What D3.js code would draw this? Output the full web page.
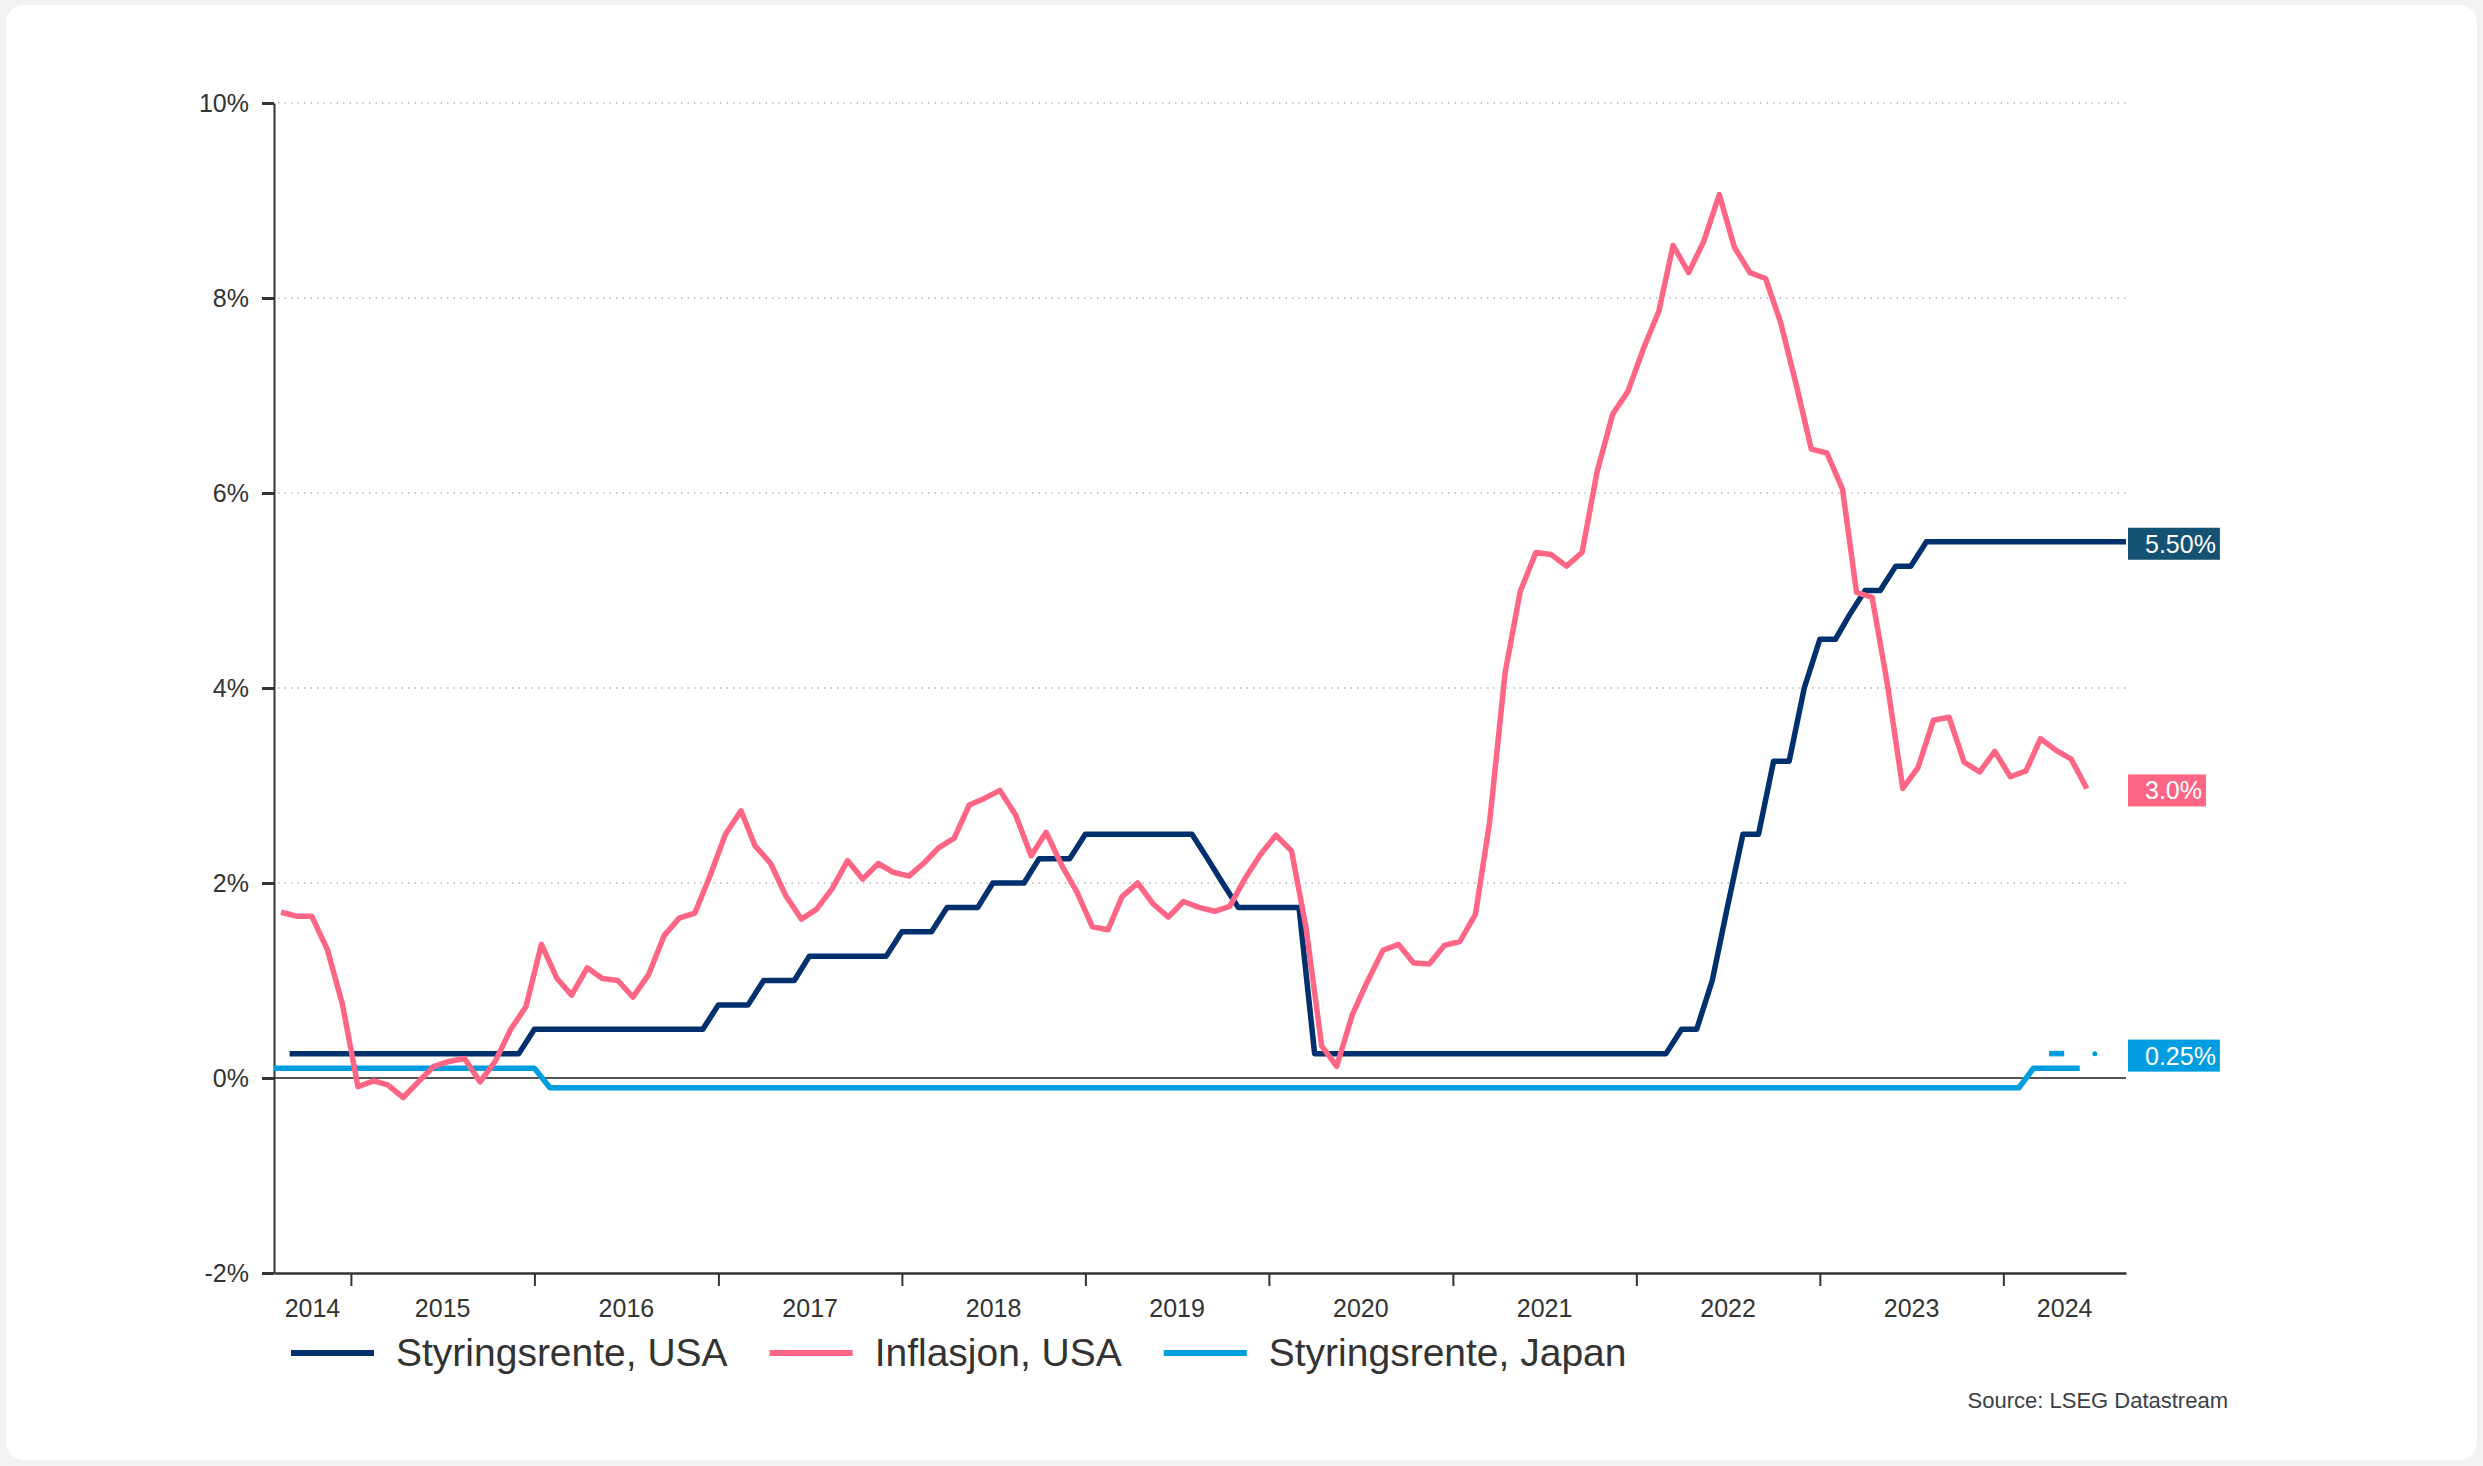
<!DOCTYPE html>
<html>
<head>
<meta charset="utf-8">
<script src="https://cdn.jsdelivr.net/npm/d3@7"></script>
<style>
  body { margin: 0; background: #f3f1f1; }
  text { font-family: "Liberation Sans", Arial, sans-serif; }
</style>
</head>
<body>
<div id="chart"></div>
<script>
// ---- data ----
var yearLabels = ["2014", "2015", "2016", "2017", "2018", "2019", "2020", "2021", "2022", "2023", "2024"];
var yTicks = [-2, 0, 2, 4, 6, 8, 10];
var seriesNames = ["Styringsrente, USA", "Inflasjon, USA", "Styringsrente, Japan"];
var lastLabels = ["5.50%", "3.0%", "0.25%"];
var lastValues = [5.5, 2.97, 0.25];

// US CPI y/y, monthly from Aug 2014
var inflasjonStart = "2014-08";
var inflasjonUSA = [
    1.70, 1.66, 1.66, 1.32, 0.76,
    -0.09, -0.03, -0.07, -0.20, -0.04, 0.12, 0.17, 0.20, -0.04, 0.17, 0.50, 0.73,
    1.37, 1.02, 0.85, 1.13, 1.02, 1.00, 0.83, 1.06, 1.46, 1.64, 1.69, 2.07,
    2.50, 2.74, 2.38, 2.20, 1.87, 1.63, 1.73, 1.94, 2.23, 2.04, 2.20, 2.11,
    2.07, 2.21, 2.36, 2.46, 2.80, 2.87, 2.95, 2.70, 2.28, 2.52, 2.18, 1.91,
    1.55, 1.52, 1.86, 2.00, 1.79, 1.65, 1.81, 1.75, 1.71, 1.76, 2.05, 2.29,
    2.49, 2.33, 1.54, 0.33, 0.12, 0.65, 0.99, 1.31, 1.37, 1.18, 1.17, 1.36,
    1.40, 1.68, 2.62, 4.16, 4.99, 5.39, 5.37, 5.25, 5.39, 6.22, 6.81, 7.04,
    7.48, 7.87, 8.54, 8.26, 8.58, 9.06, 8.52, 8.26, 8.20, 7.75, 7.11, 6.45,
    6.41, 6.04, 4.98, 4.93, 4.05, 2.97, 3.18, 3.67, 3.70, 3.24, 3.14, 3.35,
    3.09, 3.15, 3.48, 3.36, 3.27, 2.97
];

// Fed funds (upper bound), first of month from Sep 2014
var renteUSAStart = "2014-09";
var renteUSA = [
    0.25, 0.25, 0.25, 0.25,
    0.25, 0.25, 0.25, 0.25, 0.25, 0.25, 0.25, 0.25, 0.25, 0.25, 0.25, 0.25,
    0.50, 0.50, 0.50, 0.50, 0.50, 0.50, 0.50, 0.50, 0.50, 0.50, 0.50, 0.50,
    0.75, 0.75, 0.75, 1.00, 1.00, 1.00, 1.25, 1.25, 1.25, 1.25, 1.25, 1.25,
    1.50, 1.50, 1.50, 1.75, 1.75, 1.75, 2.00, 2.00, 2.00, 2.25, 2.25, 2.25,
    2.50, 2.50, 2.50, 2.50, 2.50, 2.50, 2.50, 2.50, 2.25, 2.00, 1.75, 1.75,
    1.75, 1.75, 1.75, 0.25, 0.25, 0.25, 0.25, 0.25, 0.25, 0.25, 0.25, 0.25,
    0.25, 0.25, 0.25, 0.25, 0.25, 0.25, 0.25, 0.25, 0.25, 0.25, 0.25, 0.25,
    0.25, 0.25, 0.25, 0.50, 0.50, 1.00, 1.75, 2.50, 2.50, 3.25, 3.25, 4.00,
    4.50, 4.50, 4.75, 5.00, 5.00, 5.25, 5.25, 5.50, 5.50, 5.50, 5.50, 5.50,
    5.50, 5.50, 5.50, 5.50, 5.50, 5.50, 5.50, 5.50, 5.50
];

// BoJ policy rate, monthly from Aug 2014
var renteJapanStart = "2014-08";
var renteJapan = [
    0.1, 0.1, 0.1, 0.1, 0.1,
    0.1, 0.1, 0.1, 0.1, 0.1, 0.1, 0.1, 0.1, 0.1, 0.1, 0.1, 0.1,
    0.1, -0.1, -0.1, -0.1, -0.1, -0.1, -0.1, -0.1, -0.1, -0.1, -0.1, -0.1,
    -0.1, -0.1, -0.1, -0.1, -0.1, -0.1, -0.1, -0.1, -0.1, -0.1, -0.1, -0.1,
    -0.1, -0.1, -0.1, -0.1, -0.1, -0.1, -0.1, -0.1, -0.1, -0.1, -0.1, -0.1,
    -0.1, -0.1, -0.1, -0.1, -0.1, -0.1, -0.1, -0.1, -0.1, -0.1, -0.1, -0.1,
    -0.1, -0.1, -0.1, -0.1, -0.1, -0.1, -0.1, -0.1, -0.1, -0.1, -0.1, -0.1,
    -0.1, -0.1, -0.1, -0.1, -0.1, -0.1, -0.1, -0.1, -0.1, -0.1, -0.1, -0.1,
    -0.1, -0.1, -0.1, -0.1, -0.1, -0.1, -0.1, -0.1, -0.1, -0.1, -0.1, -0.1,
    -0.1, -0.1, -0.1, -0.1, -0.1, -0.1, -0.1, -0.1, -0.1, -0.1, -0.1, -0.1,
    -0.1, -0.1, 0.1, 0.1, 0.1, 0.1
];
// short tail at the new Japanese rate (Apr-May 2024) and the Jul 2024 point
var renteJapanTailStart = "2024-04";
var renteJapanTail = [0.25, 0.25];
var renteJapanDotMonth = "2024-07";
var renteJapanDot = 0.25;

// ---- styles ----
var colors = { usRate: "#00306e", cpi: "#ff6685", jpRate: "#009ee0" };
var boxColors = ["#145172", "#ff6685", "#009ee0"];
var lineColors = [colors.usRate, colors.cpi, colors.jpRate];

// ---- svg area ----
var svgWidth = 2483;
var svgHeight = 1466;

var svg = d3.select("#chart")
    .append("svg")
    .attr("width", svgWidth)
    .attr("height", svgHeight);

// white card
svg.append("rect")
    .attr("x", 6)
    .attr("y", 5)
    .attr("width", 2471)
    .attr("height", 1455)
    .attr("rx", 18)
    .attr("fill", "white");

var plot = { left: 274, right: 2126, top: 103, bottom: 1273 };

var parseMonth = d3.timeParse("%Y-%m");

function monthDates(start, n, day) {
    var d0 = parseMonth(start);
    return d3.range(n).map(function(i) {
        var d = d3.timeMonth.offset(d0, i);
        d.setDate(day);
        return d;
    });
}

function toPoints(start, values, day) {
    var dates = monthDates(start, values.length, day);
    return values.map(function(v, i) { return { date: dates[i], value: v }; });
}

var cpiData = toPoints(inflasjonStart, inflasjonUSA, 15);
var usData = toPoints(renteUSAStart, renteUSA, 1);
var jpData = toPoints(renteJapanStart, renteJapan, 1);
var jpTail = toPoints(renteJapanTailStart, renteJapanTail, 1);

// scales
var xScale = d3.scaleTime()
    .domain([new Date(2014, 7, 1), new Date(2024, 8, 1)])
    .range([plot.left, plot.right]);

var yScale = d3.scaleLinear()
    .domain([-2, 10])
    .range([plot.bottom, plot.top]);

// gridlines
svg.append("g")
    .selectAll("line")
    .data(yTicks.filter(function(t) { return t > 0; }))
    .enter()
    .append("line")
    .attr("x1", plot.left + 4)
    .attr("x2", plot.right)
    .attr("y1", function(d) { return yScale(d); })
    .attr("y2", function(d) { return yScale(d); })
    .attr("stroke", "#b8b8b8")
    .attr("stroke-width", 1.5)
    .attr("stroke-dasharray", "1.5,5");

// zero line
svg.append("line")
    .attr("x1", plot.left)
    .attr("x2", plot.right)
    .attr("y1", yScale(0))
    .attr("y2", yScale(0))
    .attr("stroke", "#555")
    .attr("stroke-width", 2);

// y axis
var leftAxis = d3.axisLeft(yScale)
    .tickValues(yTicks)
    .tickFormat(function(d) { return d + "%"; })
    .tickSize(12)
    .tickSizeOuter(0)
    .tickPadding(13);

var yAxisG = svg.append("g")
    .attr("transform", "translate(" + plot.left + ",0)")
    .call(leftAxis);
yAxisG.select(".domain").attr("stroke", "#333").attr("stroke-width", 2);
yAxisG.selectAll(".tick line").attr("stroke", "#333").attr("stroke-width", 3);
yAxisG.selectAll(".tick text")
    .attr("fill", "#333")
    .style("font-size", "25px")
    .style("font-family", "'Liberation Sans', Arial, sans-serif");

// x axis: ticks at year boundaries, labels centred in each year
var yearStarts = yearLabels.slice(1).map(function(y) { return new Date(+y, 0, 1); });
var bottomAxis = d3.axisBottom(xScale)
    .tickValues(yearStarts)
    .tickFormat("")
    .tickSize(13)
    .tickSizeOuter(0);

var xAxisG = svg.append("g")
    .attr("transform", "translate(0," + plot.bottom + ")")
    .call(bottomAxis);
xAxisG.select(".domain").attr("stroke", "#333").attr("stroke-width", 2.5);
xAxisG.selectAll(".tick line").attr("stroke", "#333").attr("stroke-width", 2);

var d0 = xScale.domain()[0], d1 = xScale.domain()[1];
svg.append("g")
    .selectAll("text")
    .data(yearLabels)
    .enter()
    .append("text")
    .attr("x", function(y) {
        var a = new Date(+y, 0, 1), b = new Date(+y + 1, 0, 1);
        if (a < d0) a = d0;
        if (b > d1) b = d1;
        return (xScale(a) + xScale(b)) / 2;
    })
    .attr("y", plot.bottom + 44)
    .attr("text-anchor", "middle")
    .attr("fill", "#333")
    .attr("font-size", 25)
    .text(function(d) { return d; });

// lines
var line = d3.line()
    .x(function(d) { return xScale(d.date); })
    .y(function(d) { return yScale(d.value); });

function drawLine(data, color) {
    return svg.append("path")
        .datum(data)
        .attr("d", line)
        .attr("fill", "none")
        .attr("stroke", color)
        .attr("stroke-width", 5.5)
        .attr("stroke-linejoin", "round");
}

drawLine(jpData, colors.jpRate);
drawLine(jpTail, colors.jpRate);
svg.append("circle")
    .attr("cx", xScale(parseMonth(renteJapanDotMonth)))
    .attr("cy", yScale(renteJapanDot))
    .attr("r", 2.5)
    .attr("fill", colors.jpRate);
drawLine(usData, colors.usRate);
drawLine(cpiData, colors.cpi);

// end-value labels
lastLabels.forEach(function(lbl, i) {
    var cy = yScale(lastValues[i]) + 2;
    var g = svg.append("g");
    var rect = g.append("rect")
        .attr("x", plot.right + 2)
        .attr("y", cy - 16)
        .attr("height", 32)
        .attr("fill", boxColors[i]);
    var t = g.append("text")
        .attr("x", plot.right + 19)
        .attr("y", cy + 9)
        .attr("fill", "white")
        .attr("font-size", 25)
        .text(lbl);
    rect.attr("width", t.node().getComputedTextLength() + 21);
});

// legend
var legendY = 1353;
var lx = 291;
seriesNames.forEach(function(name, i) {
    svg.append("line")
        .attr("x1", lx)
        .attr("x2", lx + 83)
        .attr("y1", legendY)
        .attr("y2", legendY)
        .attr("stroke", lineColors[i])
        .attr("stroke-width", 6);
    var t = svg.append("text")
        .attr("x", lx + 105)
        .attr("y", legendY + 13)
        .attr("fill", "#333")
        .attr("font-size", 39)
        .text(name);
    lx = lx + 105 + t.node().getComputedTextLength() + 42;
});

// source
svg.append("text")
    .attr("x", 2228)
    .attr("y", 1408)
    .attr("text-anchor", "end")
    .attr("fill", "#3a4046")
    .attr("font-size", 22)
    .text("Source: LSEG Datastream");
</script>
</body>
</html>
